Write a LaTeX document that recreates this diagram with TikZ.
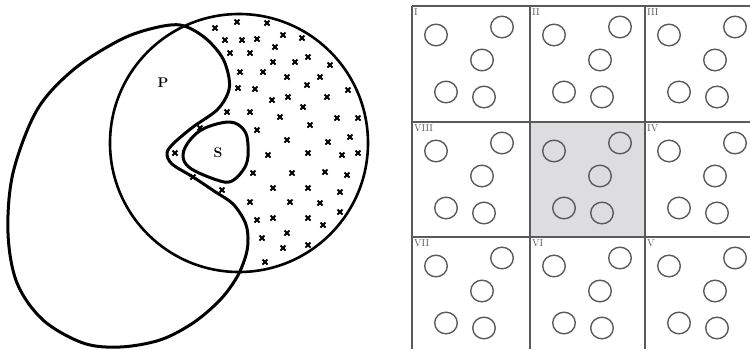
\documentclass[tikz,border=0pt]{standalone}
\usepackage{xcolor}
\definecolor{gridgray}{RGB}{90,90,90}
\definecolor{cellfill}{RGB}{221,221,223}
\begin{document}
\begin{tikzpicture}[x=1pt,y=-1pt,
  thickline/.style={line width=3pt,line join=round},
  circline/.style={line width=2.6pt},
  crossmark/.style={line width=2pt},
  gridline/.style={draw=gridgray,line width=1.1pt},
  smallcirc/.style={draw=gridgray,line width=1.4pt},
  numlabel/.style={anchor=north west,inner sep=0pt,text=gridgray,font=\fontsize{10}{10}\selectfont}
]
\useasboundingbox (0,0) rectangle (750,349);
% ---------- left figure ----------
\draw[circline] (239,143) circle (129);
\draw[thickline] plot[smooth cycle,tension=0.55] coordinates{
 (180,25) (150,29) (118,41) (73,70) (37,110) (13,173) (8,233) (17,283) (43,320) (83,343)
 (120,347) (160,340) (193,323) (220,300) (237,277) (246,255) (248,238) (245,222) (233,204)
 (214,191) (193,177) (172,164) (167,153) (174,143) (193,127) (217,110) (228,93) (229,78)
 (222,57) (204,37)};
\draw[thickline] plot[smooth cycle,tension=0.6] coordinates{
 (230,122) (244,130) (248,145) (246,165) (232,181) (217,180) (190,168) (183,155) (190,140) (205,128)};
\node[font=\fontsize{14}{14}\selectfont\bfseries] (P) at (163,83) {P};
\node[font=\fontsize{14}{14}\selectfont\bfseries] (S) at (218,153) {S};
\foreach \x/\y in {215/28,237/22,267/23,225/40,242/40,257/39,283/35,302/38,275/47,
 230/53,250/53,273/62,295/62,308/57,330/65,240/72,263/72,287/77,320/77,238/88,255/89,
 307/85,348/90,272/100,288/97,327/97,303/107,227/112,250/112,280/117,337/118,358/118,
 200/128,257/130,310/125,287/140,328/142,350/137,175/153,268/155,308/153,342/155,358/153,
 193/177,253/173,292/173,325/172,347/175,222/190,273/188,308/188,340/192,250/202,290/202,
 320/203,340/212,257/220,273/218,308/218,323/225,262/238,287/233,308/245,283/248,265/262}{
  \draw[crossmark] (\x-2.5,\y-2.5) -- (\x+2.5,\y+2.5) (\x-2.5,\y+2.5) -- (\x+2.5,\y-2.5);
}
% ---------- right figure: grid ----------
\fill[cellfill] (530,122) rectangle (645,237);
\draw[gridline] (412,6) -- (750,6);
\draw[gridline] (412,122) -- (750,122);
\draw[gridline] (412,237) -- (750,237);
\draw[gridline] (412,6) -- (412,349);
\draw[gridline] (530,6) -- (530,349);
\draw[gridline] (645,6) -- (645,349);
\foreach \cx in {412,530,645}{
  \foreach \cy in {6,122,237}{
    \foreach \dx/\dy in {24/29,90/21,70/54,34/86,72/91}{
      \draw[smallcirc] (\cx+\dx,\cy+\dy) ellipse (11.3 and 10.8);
    }
  }
}
\node[numlabel] (l1) at (414,8) {I};
\node[numlabel] (l2) at (532,8) {II};
\node[numlabel] (l3) at (647,8) {III};
\node[numlabel] (l8) at (414,124) {VIII};
\node[numlabel] (l4) at (647,124) {IV};
\node[numlabel] (l7) at (414,239) {VII};
\node[numlabel] (l6) at (532,239) {VI};
\node[numlabel] (l5) at (647,239) {V};
\end{tikzpicture}
\end{document}
